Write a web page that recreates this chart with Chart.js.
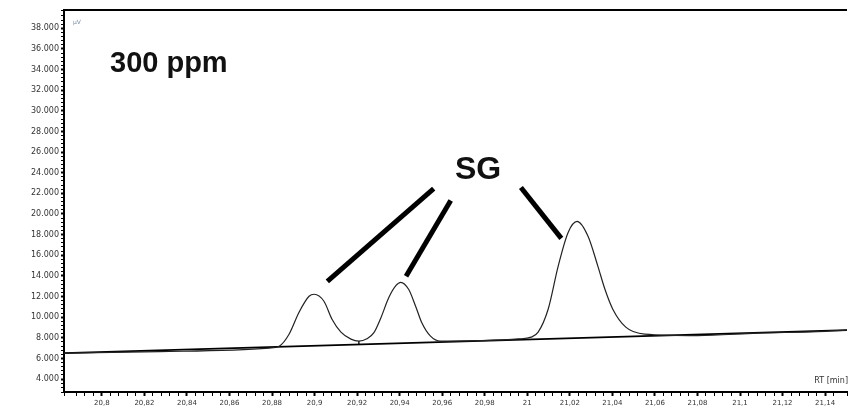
<!DOCTYPE html>
<html>
<head>
<meta charset="utf-8">
<script src="https://cdn.jsdelivr.net/npm/chart.js@4.4.1/dist/chart.umd.min.js"></script>
<style>
    html, body { margin: 0; padding: 0; background: #ffffff; }
    #box { width: 850px; height: 408px; }
</style>
</head>
<body>
<div id="box">
    <canvas id="chromChart" width="850" height="408"></canvas>
</div>
<script>

/* =========================
   DATA
========================= */

// retention time [min]
const rtTimes = [
    20.7822, 20.8272, 20.8787, 20.8834, 20.8880, 20.8927, 20.8974, 20.8998,
    20.9044, 20.9082, 20.9124, 20.9171, 20.9208, 20.9246, 20.9279, 20.9311,
    20.9349, 20.9382, 20.9405, 20.9442, 20.9475, 20.9503, 20.9545, 20.9592,
    20.9770, 20.9958, 21.0018, 21.0051, 21.0098, 21.0145, 21.0192, 21.0234,
    21.0285, 21.0332, 21.0365, 21.0402, 21.0463, 21.0552, 21.0800, 21.1082,
    21.1363, 21.1503
];

// detector signal [µV]
const signalValues = [
    6510, 6660, 7000, 7190, 8350, 10480, 12025, 12220,
    11540, 9800, 8545, 7870, 7675, 7900, 8500, 9900,
    11900, 13050, 13380, 12700, 11060, 9510, 8160, 7675,
    7720, 7890, 8060, 8545, 10770, 14925, 18210, 19275,
    17860, 14925, 12700, 10770, 9030, 8350, 8210, 8450,
    8590, 8740
];

// integration baseline
const baseTimes = [20.7822, 21.1503];
const baseValues = [6510, 8740];

// drop line between the first two peaks
const dropTimes = [20.9208, 20.9208];
const dropValues = [7675, 7300];

// pointer lines from the "SG" label to the peaks
const pointerTimes = [
    [20.956, 20.906],
    [20.964, 20.943],
    [20.997, 21.016]
];
const pointerValues = [
    [22465, 13475],
    [21305, 13958],
    [22560, 17632]
];

// axis ranges and ticks
const xMin = 20.7822;
const xMax = 21.1503;
const xMinorStep = 0.004;
const xMajorStep = 0.02;

const yMin = 2746;
const yMax = 39770;
const yMinorStep = 400;
const yMajorStep = 2000;
const yFirstLabel = 4000;
const yLastLabel = 38000;

/* =========================
   HELPERS
========================= */

function toPoints(xs, ys){

    return xs.map((x, i) => ({ x: x, y: ys[i] }));

}

function isMultiple(value, step){

    const r = value / step;

    return Math.abs(r - Math.round(r)) < 1e-6;

}

function formatRT(value){

    const v = Math.round(value * 1000) / 1000;

    return String(v).replace(".", ",");

}

function formatSignal(value){

    const v = Math.round(value);

    return String(v).replace(/\B(?=(\d{3})+(?!\d))/g, ".");

}

/* =========================
   TEXT OVERLAY PLUGIN
========================= */

const overlayText = {

    id: "overlayText",

    afterDraw(chart){

        const ctx = chart.ctx;
        const area = chart.chartArea;

        ctx.save();

        // top frame line
        ctx.strokeStyle = "#000000";
        ctx.lineWidth = 2;
        ctx.beginPath();
        ctx.moveTo(area.left - 1, area.top);
        ctx.lineTo(area.right, area.top);
        ctx.stroke();

        ctx.fillStyle = "#111111";
        ctx.textBaseline = "alphabetic";
        ctx.textAlign = "left";

        ctx.font = "bold 29px 'Liberation Sans', Arial, sans-serif";
        ctx.fillText("300 ppm", 110, 72);

        ctx.font = "bold 32px 'Liberation Sans', Arial, sans-serif";
        ctx.fillText("SG", 455, 179);

        ctx.fillStyle = "#7f8ea3";
        ctx.font = "6px 'DejaVu Sans', sans-serif";
        ctx.fillText("µV", 73, 24);

        ctx.fillStyle = "#333333";
        ctx.font = "8px 'DejaVu Sans', sans-serif";
        ctx.textAlign = "right";
        ctx.fillText("RT [min]", 848, 383);

        ctx.restore();

    }

};

/* =========================
   CHART
========================= */

document.addEventListener("DOMContentLoaded", () => {

    initChart();

});

function initChart(){

    const ctx = document.getElementById("chromChart");

    const datasets = [

        {
            label: "Signal",
            data: toPoints(rtTimes, signalValues),
            borderColor: "#222222",
            borderWidth: 1.2,
            pointRadius: 0,
            cubicInterpolationMode: "monotone",
            fill: false
        },

        {
            label: "Baseline",
            data: toPoints(baseTimes, baseValues),
            borderColor: "#000000",
            borderWidth: 1.6,
            pointRadius: 0,
            fill: false
        },

        {
            label: "Drop",
            data: toPoints(dropTimes, dropValues),
            borderColor: "#333333",
            borderWidth: 1,
            pointRadius: 0,
            fill: false
        }

    ];

    pointerTimes.forEach((xs, i) => {

        datasets.push({
            label: "Pointer " + (i + 1),
            data: toPoints(xs, pointerValues[i]),
            borderColor: "#000000",
            borderWidth: 5,
            borderCapStyle: "butt",
            pointRadius: 0,
            fill: false
        });

    });

    new Chart(ctx, {

        type: "line",

        data: { datasets: datasets },

        options: {

            responsive: false,
            animation: false,

            layout: {
                padding: { top: 10, right: 0, bottom: 0, left: 0 }
            },

            plugins: {
                legend: { display: false },
                tooltip: { enabled: false }
            },

            scales: {

                x: {
                    type: "linear",
                    min: xMin,
                    max: xMax,
                    afterFit(scale){ scale.height = 16; },
                    border: {
                        display: true,
                        color: "#000000",
                        width: 2
                    },
                    grid: {
                        drawOnChartArea: false,
                        drawTicks: true,
                        tickLength: 4,
                        tickColor: "#000000",
                        tickWidth: (c) =>
                            (c.tick && isMultiple(c.tick.value, xMajorStep)) ? 2 : 1
                    },
                    ticks: {
                        stepSize: xMinorStep,
                        autoSkip: false,
                        maxRotation: 0,
                        padding: 3,
                        color: "#333333",
                        font: { family: "'DejaVu Sans', sans-serif", size: 7 },
                        callback: (value) =>
                            isMultiple(value, xMajorStep) ? formatRT(value) : ""
                    }
                },

                y: {
                    type: "linear",
                    min: yMin,
                    max: yMax,
                    afterFit(scale){ scale.width = 64; },
                    border: {
                        display: true,
                        color: "#000000",
                        width: 2
                    },
                    grid: {
                        drawOnChartArea: false,
                        drawTicks: true,
                        tickLength: 3,
                        tickColor: "#000000",
                        tickWidth: (c) =>
                            (c.tick && isMultiple(c.tick.value, yMajorStep)) ? 2 : 1
                    },
                    ticks: {
                        stepSize: yMinorStep,
                        autoSkip: false,
                        padding: 2,
                        color: "#333333",
                        font: { family: "'DejaVu Sans', sans-serif", size: 8 },
                        callback: (value) =>
                            (isMultiple(value, yMajorStep) &&
                             value >= yFirstLabel && value <= yLastLabel)
                                ? formatSignal(value) : ""
                    }
                }

            }

        },

        plugins: [overlayText]

    });

}

</script>
</body>
</html>
